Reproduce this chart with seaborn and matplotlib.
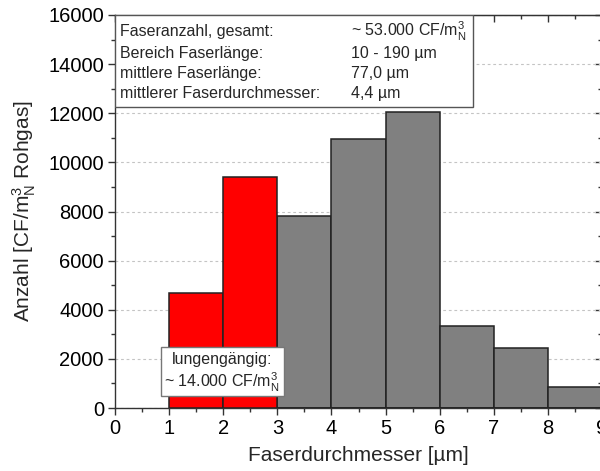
import numpy as np
import pandas as pd
import matplotlib
matplotlib.use('Agg')
import matplotlib.pyplot as plt
from matplotlib.patches import Rectangle
from matplotlib.ticker import MultipleLocator
import seaborn as sns

# DATA *******************************************************************

bin_edges = [1, 2, 3, 4, 5, 6, 7, 8, 9]
anzahl = [4700, 9400, 7800, 10950, 12050, 3350, 2450, 850]
gruppe = ['lungengängig', 'lungengängig', 'sonstige', 'sonstige', 'sonstige',
          'sonstige', 'sonstige', 'sonstige']

info_labels = ['Faseranzahl, gesamt:', 'Bereich Faserlänge:',
               'mittlere Faserlänge:', 'mittlerer Faserdurchmesser:']
info_values = ['~ 53.000 CF/m$\\mathregular{^3_N}$', '10 - 190 µm', '77,0 µm', '4,4 µm']
lung_lines = ['lungengängig:', '~ 14.000 CF/m$\\mathregular{^3_N}$']

df = pd.DataFrame({
    'mitte': [(a + b) / 2 for a, b in zip(bin_edges[:-1], bin_edges[1:])],
    'anzahl': anzahl,
    'gruppe': gruppe,
})

# CHART ******************************************************************

sns.set_style('ticks')
plt.rcParams['font.family'] = ['Liberation Sans', 'DejaVu Sans']
plt.rcParams['mathtext.fontset'] = 'custom'
plt.rcParams['mathtext.rm'] = 'Liberation Sans'

fig = plt.figure(figsize=(6, 4.71), dpi=100)
ax = fig.add_axes([115/600, 63/471, 487/600, 393/471])

sns.histplot(data=df, x='mitte', weights='anzahl', hue='gruppe', bins=bin_edges,
             palette={'lungengängig': '#ff0000', 'sonstige': '#808080'},
             alpha=1, edgecolor='#222222', linewidth=1.1, legend=False, ax=ax, zorder=3)

ax.set_xlim(0, 9)
ax.set_ylim(0, 16000)
ax.xaxis.set_major_locator(MultipleLocator(1))
ax.xaxis.set_minor_locator(MultipleLocator(0.5))
ax.yaxis.set_major_locator(MultipleLocator(2000))
ax.yaxis.set_minor_locator(MultipleLocator(1000))

ax.set_axisbelow(True)
ax.yaxis.grid(True, which='major', linestyle=(0, (2.5, 2.5)), color='#c4c4c4', linewidth=0.8)

for s in ax.spines.values():
    s.set_color('#333333')
    s.set_linewidth(1)

ax.tick_params(axis='both', which='major', direction='out', length=5, width=1,
               color='#333333', labelsize=14.5, labelcolor='black', pad=3)
ax.tick_params(axis='both', which='minor', direction='out', length=3, width=1, color='#333333')

# mirrored ticks on top and right, pointing inwards
top = ax.secondary_xaxis('top')
top.xaxis.set_major_locator(MultipleLocator(1))
top.xaxis.set_minor_locator(MultipleLocator(0.5))
top.tick_params(axis='x', which='both', direction='in', labeltop=False, color='#333333', width=1)
top.tick_params(axis='x', which='major', length=5)
top.tick_params(axis='x', which='minor', length=3)
right = ax.secondary_yaxis('right')
right.yaxis.set_major_locator(MultipleLocator(2000))
right.yaxis.set_minor_locator(MultipleLocator(1000))
right.tick_params(axis='y', which='both', direction='in', labelright=False, color='#333333', width=1)
right.tick_params(axis='y', which='major', length=5)
right.tick_params(axis='y', which='minor', length=3)
top.spines['top'].set_color('#333333')
right.spines['right'].set_color('#333333')

ax.set_xlabel('Faserdurchmesser [µm]', fontsize=15, labelpad=6)
ax.set_ylabel('Anzahl [CF/m$\\mathregular{^3_N}$ Rohgas]', fontsize=15, labelpad=7)

# info box top left
ax.add_patch(Rectangle((0, 0.766), 0.735, 0.234, transform=ax.transAxes,
                       facecolor='white', edgecolor='#555555', linewidth=1, zorder=5))
rows_y = [0.957, 0.903, 0.850, 0.799]
for lab, val, yy in zip(info_labels, info_values, rows_y):
    ax.text(0.011, yy, lab, transform=ax.transAxes, fontsize=11.5, va='center', ha='left', zorder=6)
    ax.text(0.485, yy, val, transform=ax.transAxes, fontsize=11.5, va='center', ha='left', zorder=6)

# respirable fibres note
ax.add_patch(Rectangle((0.85, 490), 2.27, 1990, facecolor='white', edgecolor='#777777',
                       linewidth=1, zorder=5))
for txt, yy in zip(lung_lines, [1960, 1060]):
    ax.text(1.98, yy, txt, fontsize=11.5, ha='center', va='center', zorder=6)

fig.savefig('out.png', dpi=100)
